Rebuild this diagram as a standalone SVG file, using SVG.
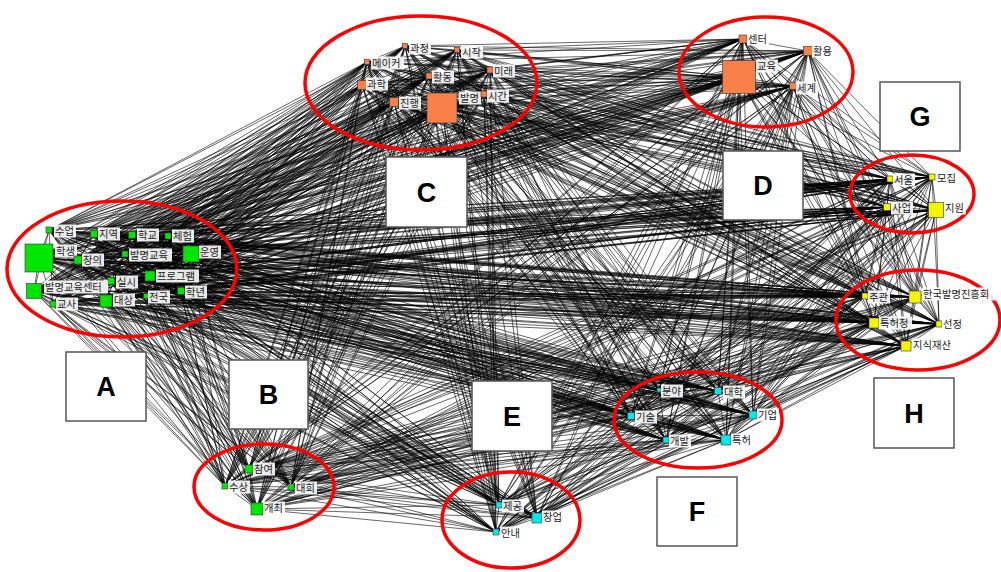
<svg xmlns="http://www.w3.org/2000/svg" width="1001" height="572" viewBox="0 0 1001 572">
<style>
.e{fill:none;stroke:#000;stroke-width:.7;stroke-opacity:.85;stroke-linejoin:round}
.ring{fill:none;stroke:#f00;stroke-width:3.5}
.nd{stroke:#333;stroke-width:.6}
.A .nd,.B .nd{fill:#00e600}
.C .nd,.D .nd{fill:#fa804a}
.G .nd,.H .nd{fill:#f5f500}
.E .nd,.F .nd{fill:#00eaea}
.lb{fill:#fff;fill-opacity:.9}
text{font-family:"Noto Sans CJK KR","Noto Sans",sans-serif;font-size:10.3px;fill:#222}
.box{fill:#fff;stroke:#555;stroke-width:1.5}
.let{font-family:"Liberation Sans",Arial,sans-serif;font-weight:bold;font-size:27px;fill:#000;text-anchor:middle}
</style>
<rect width="1001" height="572" fill="#fff"/>
<g id="connectors">
<path class="e" d="M49 230L39 258 496 532 94 234 537 518 132 235 499 505 168 236 726 440 78 260 666 440 125 254 753 415 191 254 631 416 150 276 718 391 111 281 659 390 34 291 906 346 53 304 939 324 106 301 874 323 146 296 915 297 181 291 865 296 249 469 936 210 225 486 887 207 291 487 932 177 257 509 890 179 405 46 793 86 457 50 739 77 367 62 808 51 490 70 743 39 429 76 484 94 362 85 442 108 394 102"/>
<path class="e" d="M39 258L94 234 49 230 132 235 496 532 168 236 537 518 78 260 499 505 125 254 726 440 191 254 666 440 150 276 753 415 111 281 631 416 34 291 718 391 53 304 659 390 106 301 906 346 146 296 939 324 181 291 874 323 249 469 915 297 225 486 865 296 291 487 936 210 257 509 887 207 405 46 932 177 457 50 890 179 367 62 793 86 490 70 739 77 429 76 808 51 362 85 743 39 394 102 484 94 442 108"/>
<path class="e" d="M94 234L132 235 39 258 168 236 49 230 78 260 496 532 125 254 537 518 191 254 499 505 150 276 726 440 111 281 666 440 34 291 753 415 53 304 631 416 106 301 718 391 146 296 659 390 181 291 906 346 249 469 939 324 225 486 874 323 291 487 915 297 257 509 865 296 405 46 936 210 457 50 887 207 367 62 932 177 490 70 890 179 429 76 793 86 362 85 739 77 394 102 808 51 442 108 743 39 484 94"/>
<path class="e" d="M132 235L168 236 94 234 78 260 39 258 125 254 49 230 191 254 496 532 150 276 537 518 111 281 499 505 34 291 726 440 53 304 666 440 106 301 753 415 146 296 631 416 181 291 718 391 249 469 659 390 225 486 906 346 291 487 939 324 257 509 874 323 405 46 915 297 457 50 865 296 367 62 936 210 490 70 887 207 429 76 932 177 362 85 890 179 394 102 793 86 442 108 739 77 484 94 808 51 743 39"/>
<path class="e" d="M168 236L78 260 132 235 125 254 94 234 191 254 39 258 150 276 49 230 111 281 496 532 34 291 537 518 53 304 499 505 106 301 726 440 146 296 666 440 181 291 753 415 249 469 631 416 225 486 718 391 291 487 659 390 257 509 906 346 405 46 939 324 457 50 874 323 367 62 915 297 490 70 865 296 429 76 936 210 362 85 887 207 394 102 932 177 442 108 890 179 484 94 793 86 743 39 739 77 808 51"/>
<path class="e" d="M78 260L125 254 168 236 191 254 132 235 150 276 94 234 111 281 39 258 34 291 49 230 53 304 496 532 106 301 537 518 146 296 499 505 181 291 726 440 249 469 666 440 225 486 753 415 291 487 631 416 257 509 718 391 405 46 659 390 457 50 906 346 367 62 939 324 490 70 874 323 429 76 915 297 362 85 865 296 394 102 936 210 442 108 887 207 484 94 932 177 743 39 890 179 808 51 793 86 739 77"/>
<path class="e" d="M125 254L191 254 78 260 150 276 168 236 111 281 132 235 34 291 94 234 53 304 39 258 106 301 49 230 146 296 496 532 181 291 537 518 249 469 499 505 225 486 726 440 291 487 666 440 257 509 753 415 405 46 631 416 457 50 718 391 367 62 659 390 490 70 906 346 429 76 939 324 362 85 874 323 394 102 915 297 442 108 865 296 484 94 936 210 743 39 887 207 808 51 932 177 739 77 890 179 793 86"/>
<path class="e" d="M191 254L150 276 125 254 111 281 78 260 34 291 168 236 53 304 132 235 106 301 94 234 146 296 39 258 181 291 49 230 249 469 496 532 225 486 537 518 291 487 499 505 257 509 726 440 405 46 666 440 457 50 753 415 367 62 631 416 490 70 718 391 429 76 659 390 362 85 906 346 394 102 939 324 442 108 874 323 484 94 915 297 743 39 865 296 808 51 936 210 739 77 887 207 793 86 932 177 890 179"/>
<path class="e" d="M150 276L111 281 191 254 34 291 125 254 53 304 78 260 106 301 168 236 146 296 132 235 181 291 94 234 249 469 39 258 225 486 49 230 291 487 496 532 257 509 537 518 405 46 499 505 457 50 726 440 367 62 666 440 490 70 753 415 429 76 631 416 362 85 718 391 394 102 659 390 442 108 906 346 484 94 939 324 743 39 874 323 808 51 915 297 739 77 865 296 793 86 936 210 890 179 887 207 932 177"/>
<path class="e" d="M111 281L34 291 150 276 53 304 191 254 106 301 125 254 146 296 78 260 181 291 168 236 249 469 132 235 225 486 94 234 291 487 39 258 257 509 49 230 405 46 496 532 457 50 537 518 367 62 499 505 490 70 726 440 429 76 666 440 362 85 753 415 394 102 631 416 442 108 718 391 484 94 659 390 743 39 906 346 808 51 939 324 739 77 874 323 793 86 915 297 890 179 865 296 932 177 936 210 887 207"/>
<path class="e" d="M34 291L53 304 111 281 106 301 150 276 146 296 191 254 181 291 125 254 249 469 78 260 225 486 168 236 291 487 132 235 257 509 94 234 405 46 39 258 457 50 49 230 367 62 496 532 490 70 537 518 429 76 499 505 362 85 726 440 394 102 666 440 442 108 753 415 484 94 631 416 743 39 718 391 808 51 659 390 739 77 906 346 793 86 939 324 890 179 874 323 932 177 915 297 887 207 865 296 936 210"/>
<path class="e" d="M53 304L106 301 34 291 146 296 111 281 181 291 150 276 249 469 191 254 225 486 125 254 291 487 78 260 257 509 168 236 405 46 132 235 457 50 94 234 367 62 39 258 490 70 49 230 429 76 496 532 362 85 537 518 394 102 499 505 442 108 726 440 484 94 666 440 743 39 753 415 808 51 631 416 739 77 718 391 793 86 659 390 890 179 906 346 932 177 939 324 887 207 874 323 936 210 915 297 865 296"/>
<path class="e" d="M106 301L146 296 53 304 181 291 34 291 249 469 111 281 225 486 150 276 291 487 191 254 257 509 125 254 405 46 78 260 457 50 168 236 367 62 132 235 490 70 94 234 429 76 39 258 362 85 49 230 394 102 496 532 442 108 537 518 484 94 499 505 743 39 726 440 808 51 666 440 739 77 753 415 793 86 631 416 890 179 718 391 932 177 659 390 887 207 906 346 936 210 939 324 865 296 874 323 915 297"/>
<path class="e" d="M146 296L181 291 106 301 249 469 53 304 225 486 34 291 291 487 111 281 257 509 150 276 405 46 191 254 457 50 125 254 367 62 78 260 490 70 168 236 429 76 132 235 362 85 94 234 394 102 39 258 442 108 49 230 484 94 496 532 743 39 537 518 808 51 499 505 739 77 726 440 793 86 666 440 890 179 753 415 932 177 631 416 887 207 718 391 936 210 659 390 865 296 906 346 915 297 939 324 874 323"/>
<path class="e" d="M181 291L249 469 146 296 225 486 106 301 291 487 53 304 257 509 34 291 405 46 111 281 457 50 150 276 367 62 191 254 490 70 125 254 429 76 78 260 362 85 168 236 394 102 132 235 442 108 94 234 484 94 39 258 743 39 49 230 808 51 496 532 739 77 537 518 793 86 499 505 890 179 726 440 932 177 666 440 887 207 753 415 936 210 631 416 865 296 718 391 915 297 659 390 874 323 906 346 939 324"/>
<path class="e" d="M249 469L225 486 181 291 291 487 146 296 257 509 106 301 405 46 53 304 457 50 34 291 367 62 111 281 490 70 150 276 429 76 191 254 362 85 125 254 394 102 78 260 442 108 168 236 484 94 132 235 743 39 94 234 808 51 39 258 739 77 49 230 793 86 496 532 890 179 537 518 932 177 499 505 887 207 726 440 936 210 666 440 865 296 753 415 915 297 631 416 874 323 718 391 939 324 659 390 906 346"/>
<path class="e" d="M225 486L291 487 249 469 257 509 181 291 405 46 146 296 457 50 106 301 367 62 53 304 490 70 34 291 429 76 111 281 362 85 150 276 394 102 191 254 442 108 125 254 484 94 78 260 743 39 168 236 808 51 132 235 739 77 94 234 793 86 39 258 890 179 49 230 932 177 496 532 887 207 537 518 936 210 499 505 865 296 726 440 915 297 666 440 874 323 753 415 939 324 631 416 906 346 718 391 659 390"/>
<path class="e" d="M291 487L257 509 225 486 405 46 249 469 457 50 181 291 367 62 146 296 490 70 106 301 429 76 53 304 362 85 34 291 394 102 111 281 442 108 150 276 484 94 191 254 743 39 125 254 808 51 78 260 739 77 168 236 793 86 132 235 890 179 94 234 932 177 39 258 887 207 49 230 936 210 496 532 865 296 537 518 915 297 499 505 874 323 726 440 939 324 666 440 906 346 753 415 659 390 631 416 718 391"/>
<path class="e" d="M257 509L405 46 291 487 457 50 225 486 367 62 249 469 490 70 181 291 429 76 146 296 362 85 106 301 394 102 53 304 442 108 34 291 484 94 111 281 743 39 150 276 808 51 191 254 739 77 125 254 793 86 78 260 890 179 168 236 932 177 132 235 887 207 94 234 936 210 39 258 865 296 49 230 915 297 496 532 874 323 537 518 939 324 499 505 906 346 726 440 659 390 666 440 718 391 753 415 631 416"/>
<path class="e" d="M405 46L457 50 257 509 367 62 291 487 490 70 225 486 429 76 249 469 362 85 181 291 394 102 146 296 442 108 106 301 484 94 53 304 743 39 34 291 808 51 111 281 739 77 150 276 793 86 191 254 890 179 125 254 932 177 78 260 887 207 168 236 936 210 132 235 865 296 94 234 915 297 39 258 874 323 49 230 939 324 496 532 906 346 537 518 659 390 499 505 718 391 726 440 631 416 666 440 753 415"/>
<path class="e" d="M457 50L367 62 405 46 490 70 257 509 429 76 291 487 362 85 225 486 394 102 249 469 442 108 181 291 484 94 146 296 743 39 106 301 808 51 53 304 739 77 34 291 793 86 111 281 890 179 150 276 932 177 191 254 887 207 125 254 936 210 78 260 865 296 168 236 915 297 132 235 874 323 94 234 939 324 39 258 906 346 49 230 659 390 496 532 718 391 537 518 631 416 499 505 753 415 726 440 666 440"/>
<path class="e" d="M367 62L490 70 457 50 429 76 405 46 362 85 257 509 394 102 291 487 442 108 225 486 484 94 249 469 743 39 181 291 808 51 146 296 739 77 106 301 793 86 53 304 890 179 34 291 932 177 111 281 887 207 150 276 936 210 191 254 865 296 125 254 915 297 78 260 874 323 168 236 939 324 132 235 906 346 94 234 659 390 39 258 718 391 49 230 631 416 496 532 753 415 537 518 666 440 499 505 726 440"/>
<path class="e" d="M490 70L429 76 367 62 362 85 457 50 394 102 405 46 442 108 257 509 484 94 291 487 743 39 225 486 808 51 249 469 739 77 181 291 793 86 146 296 890 179 106 301 932 177 53 304 887 207 34 291 936 210 111 281 865 296 150 276 915 297 191 254 874 323 125 254 939 324 78 260 906 346 168 236 659 390 132 235 718 391 94 234 631 416 39 258 753 415 49 230 666 440 496 532 726 440 537 518 499 505"/>
<path class="e" d="M429 76L362 85 490 70 394 102 367 62 442 108 457 50 484 94 405 46 743 39 257 509 808 51 291 487 739 77 225 486 793 86 249 469 890 179 181 291 932 177 146 296 887 207 106 301 936 210 53 304 865 296 34 291 915 297 111 281 874 323 150 276 939 324 191 254 906 346 125 254 659 390 78 260 718 391 168 236 631 416 132 235 753 415 94 234 666 440 39 258 726 440 49 230 499 505 496 532 537 518"/>
<path class="e" d="M362 85L394 102 429 76 442 108 490 70 484 94 367 62 743 39 457 50 808 51 405 46 739 77 257 509 793 86 291 487 890 179 225 486 932 177 249 469 887 207 181 291 936 210 146 296 865 296 106 301 915 297 53 304 874 323 34 291 939 324 111 281 906 346 150 276 659 390 191 254 718 391 125 254 631 416 78 260 753 415 168 236 666 440 132 235 726 440 94 234 499 505 39 258 537 518 49 230 496 532"/>
</g>
<g id="clusters">
<ellipse class="ring" cx="122" cy="269" rx="115" ry="68"/>
<ellipse class="ring" cx="421" cy="83" rx="116" ry="67"/>
<ellipse class="ring" cx="766" cy="72" rx="87" ry="55"/>
<ellipse class="ring" cx="912" cy="194" rx="62" ry="39"/>
<ellipse class="ring" cx="918" cy="320" rx="82" ry="50"/>
<ellipse class="ring" cx="698" cy="420" rx="84" ry="48"/>
<ellipse class="ring" cx="264" cy="487" rx="70" ry="43"/>
<ellipse class="ring" cx="511" cy="520" rx="69" ry="48"/>
</g>
<g class="A">
<g id="n0"><rect class="nd" x="46" y="227" width="6" height="6"/><rect class="lb" x="54" y="224.5" width="22" height="13"/><text x="55" y="234.8">수업</text></g>
<g id="n1"><rect class="nd" x="25" y="244" width="28" height="28"/><rect class="lb" x="55" y="244.5" width="22" height="13"/><text x="56" y="254.8">학생</text></g>
<g id="n2"><rect class="nd" x="90.5" y="230.5" width="7" height="7"/><rect class="lb" x="98" y="227.5" width="22" height="13"/><text x="99" y="237.8">지역</text></g>
<g id="n3"><rect class="nd" x="128.5" y="231.5" width="7" height="7"/><rect class="lb" x="137" y="228.5" width="22" height="13"/><text x="138" y="238.8">학교</text></g>
<g id="n4"><rect class="nd" x="165" y="233" width="6" height="6"/><rect class="lb" x="172" y="229.5" width="22" height="13"/><text x="173" y="239.8">체험</text></g>
<g id="n5"><rect class="nd" x="74" y="256" width="8" height="8"/><rect class="lb" x="82" y="253.5" width="22" height="13"/><text x="83" y="263.8">창의</text></g>
<g id="n6"><rect class="nd" x="122" y="251" width="6" height="6"/><rect class="lb" x="129" y="248.5" width="43" height="13"/><text x="130" y="258.8">발명교육</text></g>
<g id="n7"><rect class="nd" x="183" y="246" width="16" height="16"/><rect class="lb" x="199" y="245.5" width="22" height="13"/><text x="200" y="255.8">운영</text></g>
<g id="n8"><rect class="nd" x="145" y="271" width="10" height="10"/><rect class="lb" x="156" y="269.5" width="43" height="13"/><text x="157" y="279.8">프로그램</text></g>
<g id="n9"><rect class="nd" x="107.5" y="277.5" width="7" height="7"/><rect class="lb" x="116" y="275.5" width="22" height="13"/><text x="117" y="285.8">실시</text></g>
<g id="n10"><rect class="nd" x="26.5" y="283.5" width="15" height="15"/><rect class="lb" x="44" y="280.5" width="64" height="13"/><text x="45" y="290.8">발명교육센터</text></g>
<g id="n11"><rect class="nd" x="50" y="301" width="6" height="6"/><rect class="lb" x="56" y="297.5" width="22" height="13"/><text x="57" y="307.8">교사</text></g>
<g id="n12"><rect class="nd" x="100" y="295" width="12" height="12"/><rect class="lb" x="113" y="293.5" width="22" height="13"/><text x="114" y="303.8">대상</text></g>
<g id="n13"><rect class="nd" x="143.5" y="293.5" width="5" height="5"/><rect class="lb" x="148" y="290.5" width="22" height="13"/><text x="149" y="300.8">전국</text></g>
<g id="n14"><rect class="nd" x="177.5" y="287.5" width="7" height="7"/><rect class="lb" x="185" y="285.5" width="22" height="13"/><text x="186" y="295.8">학년</text></g>
</g>
<g class="B">
<g id="n15"><rect class="nd" x="245" y="465" width="8" height="8"/><rect class="lb" x="253" y="462.5" width="22" height="13"/><text x="254" y="472.8">참여</text></g>
<g id="n16"><rect class="nd" x="222" y="483" width="6" height="6"/><rect class="lb" x="228" y="480.5" width="22" height="13"/><text x="229" y="490.8">수상</text></g>
<g id="n17"><rect class="nd" x="288" y="484" width="6" height="6"/><rect class="lb" x="295" y="481.5" width="22" height="13"/><text x="296" y="491.8">대회</text></g>
<g id="n18"><rect class="nd" x="251" y="503" width="12" height="12"/><rect class="lb" x="263" y="501.5" width="22" height="13"/><text x="264" y="511.8">개최</text></g>
</g>
<g class="C">
<g id="n19"><rect class="nd" x="402.5" y="43.5" width="5" height="5"/><rect class="lb" x="409" y="41.5" width="22" height="13"/><text x="410" y="51.8">과정</text></g>
<g id="n20"><rect class="nd" x="454.5" y="47.5" width="5" height="5"/><rect class="lb" x="461" y="45.5" width="22" height="13"/><text x="462" y="55.8">시작</text></g>
<g id="n21"><rect class="nd" x="364.5" y="59.5" width="5" height="5"/><rect class="lb" x="371" y="56.5" width="33" height="13"/><text x="372" y="66.8">메이커</text></g>
<g id="n22"><rect class="nd" x="487" y="67" width="6" height="6"/><rect class="lb" x="493" y="64.5" width="22" height="13"/><text x="494" y="74.8">미래</text></g>
<g id="n23"><rect class="nd" x="426" y="73" width="6" height="6"/><rect class="lb" x="432" y="70.5" width="22" height="13"/><text x="433" y="80.8">활동</text></g>
<g id="n24"><rect class="nd" x="357.5" y="80.5" width="9" height="9"/><rect class="lb" x="366" y="77.5" width="22" height="13"/><text x="367" y="87.8">과학</text></g>
<g id="n25"><rect class="nd" x="389.5" y="97.5" width="9" height="9"/><rect class="lb" x="399" y="96.5" width="22" height="13"/><text x="400" y="106.8">진행</text></g>
<g id="n26"><rect class="nd" x="427" y="93" width="30" height="30"/><rect class="lb" x="459" y="91.5" width="22" height="13"/><text x="460" y="101.8">발명</text></g>
<g id="n27"><rect class="nd" x="481" y="91" width="6" height="6"/><rect class="lb" x="487" y="89.5" width="22" height="13"/><text x="488" y="99.8">시간</text></g>
</g>
<g class="D">
<g id="n28"><rect class="nd" x="739" y="35" width="8" height="8"/><rect class="lb" x="747" y="32.5" width="22" height="13"/><text x="748" y="42.8">센터</text></g>
<g id="n29"><rect class="nd" x="803.5" y="46.5" width="9" height="9"/><rect class="lb" x="812" y="44.5" width="22" height="13"/><text x="813" y="54.8">활용</text></g>
<g id="n30"><rect class="nd" x="722.5" y="60.5" width="33" height="33"/><rect class="lb" x="756" y="59.5" width="22" height="13"/><text x="757" y="69.8">교육</text></g>
<g id="n31"><rect class="nd" x="789.5" y="82.5" width="7" height="7"/><rect class="lb" x="796" y="81.5" width="22" height="13"/><text x="797" y="91.8">세계</text></g>
</g>
<g class="G">
<g id="n32"><rect class="nd" x="887" y="176" width="6" height="6"/><rect class="lb" x="893" y="173.5" width="22" height="13"/><text x="894" y="183.8">서울</text></g>
<g id="n33"><rect class="nd" x="929" y="174" width="6" height="6"/><rect class="lb" x="936" y="171.5" width="22" height="13"/><text x="937" y="181.8">모집</text></g>
<g id="n34"><rect class="nd" x="883.5" y="203.5" width="7" height="7"/><rect class="lb" x="891" y="201.5" width="22" height="13"/><text x="892" y="211.8">사업</text></g>
<g id="n35"><rect class="nd" x="928.5" y="202.5" width="15" height="15"/><rect class="lb" x="944" y="201.5" width="22" height="13"/><text x="945" y="211.8">지원</text></g>
</g>
<g class="H">
<g id="n36"><rect class="nd" x="862" y="293" width="6" height="6"/><rect class="lb" x="868" y="290.5" width="22" height="13"/><text x="869" y="300.8">주관</text></g>
<g id="n37"><rect class="nd" x="909" y="291" width="12" height="12"/><rect class="lb" x="922" y="287.5" width="79" height="13"/><text x="923" y="297.8">한국발명진흥회</text></g>
<g id="n38"><rect class="nd" x="869" y="318" width="10" height="10"/><rect class="lb" x="879" y="316.5" width="33" height="13"/><text x="880" y="326.8">특허청</text></g>
<g id="n39"><rect class="nd" x="936" y="321" width="6" height="6"/><rect class="lb" x="942" y="317.5" width="22" height="13"/><text x="943" y="327.8">선정</text></g>
<g id="n40"><rect class="nd" x="901" y="341" width="10" height="10"/><rect class="lb" x="912" y="338.5" width="43" height="13"/><text x="913" y="348.8">지식재산</text></g>
</g>
<g class="F">
<g id="n41"><rect class="nd" x="657" y="388" width="4" height="4"/><rect class="lb" x="661" y="384.5" width="22" height="13"/><text x="662" y="394.8">분야</text></g>
<g id="n42"><rect class="nd" x="714.5" y="387.5" width="7" height="7"/><rect class="lb" x="723" y="385.5" width="22" height="13"/><text x="724" y="395.8">대학</text></g>
<g id="n43"><rect class="nd" x="627.5" y="412.5" width="7" height="7"/><rect class="lb" x="635" y="410.5" width="22" height="13"/><text x="636" y="420.8">기술</text></g>
<g id="n44"><rect class="nd" x="749" y="411" width="8" height="8"/><rect class="lb" x="757" y="408.5" width="22" height="13"/><text x="758" y="418.8">기업</text></g>
<g id="n45"><rect class="nd" x="663" y="437" width="6" height="6"/><rect class="lb" x="669" y="434.5" width="22" height="13"/><text x="670" y="444.8">개발</text></g>
<g id="n46"><rect class="nd" x="721" y="435" width="10" height="10"/><rect class="lb" x="731" y="433.5" width="22" height="13"/><text x="732" y="443.8">특허</text></g>
</g>
<g class="E">
<g id="n47"><rect class="nd" x="496" y="502" width="6" height="6"/><rect class="lb" x="502" y="499.5" width="22" height="13"/><text x="503" y="509.8">제공</text></g>
<g id="n48"><rect class="nd" x="532" y="513" width="10" height="10"/><rect class="lb" x="542" y="510.5" width="22" height="13"/><text x="543" y="520.8">창업</text></g>
<g id="n49"><rect class="nd" x="493" y="529" width="6" height="6"/><rect class="lb" x="500" y="526.5" width="22" height="13"/><text x="501" y="536.8">안내</text></g>
</g>
<g id="letters">
<g id="boxA"><rect class="box" x="66" y="352" width="80" height="69"/><text class="let" x="106" y="396">A</text></g>
<g id="boxB"><rect class="box" x="229" y="360" width="79" height="69"/><text class="let" x="268.5" y="404">B</text></g>
<g id="boxC"><rect class="box" x="386" y="157" width="81" height="70"/><text class="let" x="426.5" y="202">C</text></g>
<g id="boxD"><rect class="box" x="723" y="151" width="80" height="69"/><text class="let" x="763" y="195">D</text></g>
<g id="boxE"><rect class="box" x="472" y="381" width="80" height="70"/><text class="let" x="512" y="426">E</text></g>
<g id="boxF"><rect class="box" x="657" y="477" width="80" height="69"/><text class="let" x="697" y="521">F</text></g>
<g id="boxG"><rect class="box" x="880" y="82" width="80" height="69"/><text class="let" x="920" y="126">G</text></g>
<g id="boxH"><rect class="box" x="874" y="378" width="80" height="70"/><text class="let" x="914" y="423">H</text></g>
</g>
</svg>
